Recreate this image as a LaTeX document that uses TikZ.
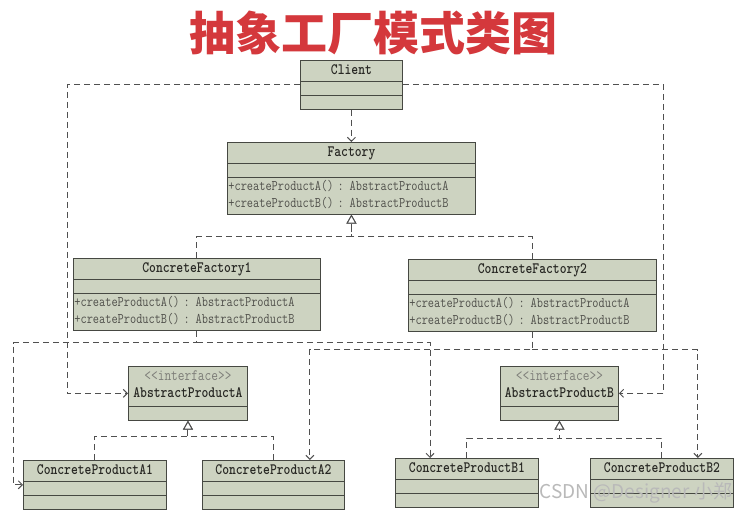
\documentclass[tikz,border=0pt]{standalone}
\usepackage{fontspec}
\usepackage{graphicx}
\newfontfamily\cjk{Noto Sans CJK SC}
\usetikzlibrary{shapes.multipart,arrows.meta}
\setlength{\parindent}{0pt}

\definecolor{boxfill}{RGB}{205,211,193}
\definecolor{boxline}{RGB}{70,72,66}
\definecolor{nametext}{RGB}{40,40,36}
\definecolor{methodtext}{RGB}{80,80,75}
\definecolor{ifacetext}{RGB}{125,125,120}
\definecolor{linegray}{RGB}{80,80,80}
\definecolor{titlered}{RGB}{212,56,60}

% parts of a class box
\newcommand{\tall}[1]{\scalebox{1}[1.22]{#1}}
\newcommand{\classname}[1]{\makebox[\hsize][c]{\fontsize{13}{17}\selectfont\bfseries\color{nametext}\rule[-6pt]{0pt}{20pt}\tall{#1}}}
\newcommand{\ifacename}[1]{\fontsize{13}{16}\selectfont
  \makebox[\hsize][c]{\rule{0pt}{14pt}\textcolor{ifacetext}{\tall{<<interface>>}}}\\
  \makebox[\hsize][c]{\rule[-8pt]{0pt}{0pt}\textcolor{nametext}{\bfseries\tall{#1}}}}
\newcommand{\emptypart}{\rule{0pt}{13pt}}
\newcommand{\methods}[2]{\color{methodtext}\rule{0pt}{13pt}\tall{#1}\\\rule[-6pt]{0pt}{0pt}\tall{#2}}

\begin{document}
\begin{tikzpicture}[x=1pt,y=-1pt,
  umlclass/.style={rectangle split, rectangle split parts=3, draw=boxline, fill=boxfill,
    line width=0.9pt, inner xsep=1pt, inner ysep=0pt, anchor=north west, align=left,
    font=\ttfamily\fontsize{12}{17}\selectfont},
  umliface/.style={umlclass, rectangle split parts=2},
  dep/.style={draw=linegray, line width=1pt, dash pattern=on 6pt off 4pt,
    -{Straight Barb[length=4pt,width=8pt]}},
  realize/.style={draw=linegray, line width=1pt, dash pattern=on 6pt off 4pt,
    -{Triangle[open,length=9pt,width=10pt,fill=white]}}]

\fill[white] (0,0) rectangle (745,513);

% The title
\node[font=\cjk\bfseries\fontsize{46}{46}\selectfont, text=titlered, inner sep=0pt] (title) at (373.5,33) {抽象工厂模式类图};

% The client and the factories
\node[umlclass, text width=100pt] (client) at (300,60)
  {\classname{Client}\nodepart{second}\emptypart\nodepart{third}\emptypart};
\node[umlclass, text width=246pt] (factory) at (227,142)
  {\classname{Factory}\nodepart{second}\emptypart\nodepart{third}\methods{+createProductA() : AbstractProductA}{+createProductB() : AbstractProductB}};
\node[umlclass, text width=245pt] (cf1) at (73,258)
  {\classname{ConcreteFactory1}\nodepart{second}\emptypart\nodepart{third}\methods{+createProductA() : AbstractProductA}{+createProductB() : AbstractProductB}};
\node[umlclass, text width=246pt] (cf2) at (408,259)
  {\classname{ConcreteFactory2}\nodepart{second}\emptypart\nodepart{third}\methods{+createProductA() : AbstractProductA}{+createProductB() : AbstractProductB}};

% The products
\node[umliface, text width=117pt] (apa) at (128,366)
  {\ifacename{AbstractProductA}\nodepart{second}\emptypart};
\node[umliface, text width=116pt] (apb) at (500,366)
  {\ifacename{AbstractProductB}\nodepart{second}\emptypart};
\node[umlclass, text width=141pt] (cpa1) at (23,460)
  {\classname{ConcreteProductA1}\nodepart{second}\emptypart\nodepart{third}\emptypart};
\node[umlclass, text width=140pt] (cpa2) at (202,460)
  {\classname{ConcreteProductA2}\nodepart{second}\emptypart\nodepart{third}\emptypart};
\node[umlclass, text width=141pt] (cpb1) at (395,458)
  {\classname{ConcreteProductB1}\nodepart{second}\emptypart\nodepart{third}\emptypart};
\node[umlclass, text width=141pt] (cpb2) at (590,458)
  {\classname{ConcreteProductB2}\nodepart{second}\emptypart\nodepart{third}\emptypart};

% The client uses
\draw[dep] (client.south) -- (factory.north);
\draw[dep] (client.west) -- ++(-233,0) |- (apa.west);
\draw[dep] (client.east) -- ++(261,0) |- (apb.east);

% The factory realizations
\draw[realize] (cf1.north) -- ++(0,-21) -| (factory.south);
\draw[realize] (cf2.north) -- ++(0,-22) -| (factory.south);

% The factories create
\draw[dep] (cf1.south) -- ++(0,12) coordinate (cf1b) -| ([xshift=-10pt]cpa1.west) -- (cpa1.west);
\draw[dep] (cf1b) -| ([xshift=35pt]cpb1.north west);
\draw[dep] (cf2.south) -- ++(0,18) coordinate (cf2b) -| ([xshift=-35pt]cpa2.north east);
\draw[dep] (cf2b) -| ([xshift=-36pt]cpb2.north east);

% The product realizations
\draw[realize] (cpa1.north) -- ++(0,-24) -| (apa.south);
\draw[realize] (cpa2.north) -- ++(0,-24) -| (apa.south);
\draw[realize] (cpb1.north) -- ++(0,-20) -| (apb.south);
\draw[realize] (cpb2.north) -- ++(0,-20) -| (apb.south);

% The mark
\node[font=\cjk\fontsize{19}{19}\selectfont, text=gray!55, inner sep=0pt] (mark) at (636,493) {CSDN @Designer 小郑};

\end{tikzpicture}
\end{document}
